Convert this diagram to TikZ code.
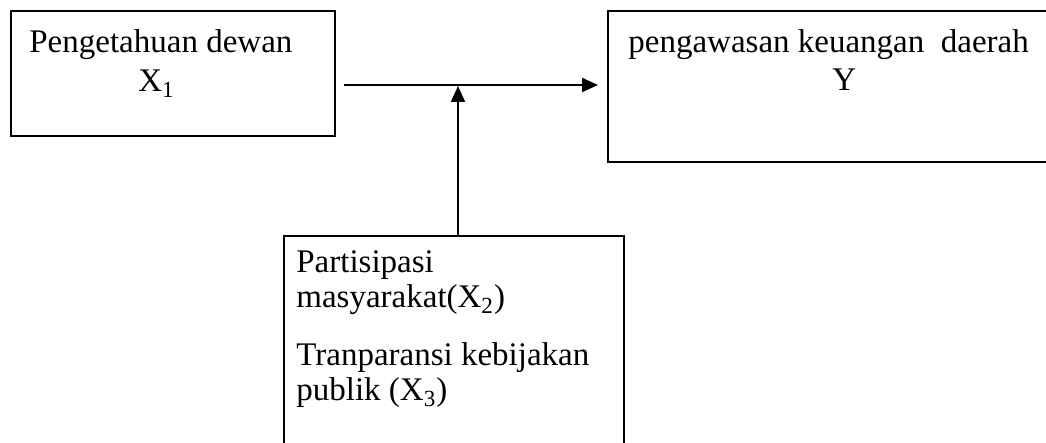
\documentclass[tikz,border=0pt]{standalone}
\usepackage{fontspec}
\setmainfont{Liberation Serif}
\usetikzlibrary{arrows.meta}
\tikzset{box/.style={draw, line width=1pt, rectangle, inner sep=0pt, anchor=north west},
  txt/.style={anchor=base west, inner sep=0pt, font=\fontsize{16.5}{16.5}\selectfont},
  arr/.style={-{Triangle[length=8pt,width=7pt]}, line width=1pt}}
\begin{document}
\begin{tikzpicture}[x=0.5pt,y=-0.5pt]
\useasboundingbox (0,0) rectangle (1046,443);
\node[box, minimum width=162pt, minimum height=62.5pt] (b1) at (10,10) {};
\node[box, minimum width=222.5pt, minimum height=75.5pt] (b2) at (607,10) {};
\node[box, minimum width=170pt, minimum height=107.5pt] (b3) at (283,235) {};

\node[txt] (t1) at (29,53) {Pengetahuan dewan};
\node[txt] (t2) at (138,92) {X\textsubscript{1}};
\node[txt] (t3) at (628,53) {pengawasan keuangan\ \ daerah};
\node[txt] (t4) at (832,91) {Y};
\node[txt] (t5) at (296,273) {Partisipasi};
\node[txt] (t6) at (296,308) {masyarakat(X\textsubscript{2})};
\node[txt] (t7) at (296,366) {Tranparansi kebijakan};
\node[txt] (t8) at (296,401) {publik (X\textsubscript{3})};

\coordinate (m) at (458,85);
\draw[arr, shorten <=4pt, shorten >=4.5pt] (b1.east |- m) -- (b2.west |- m);
\draw[arr, shorten >=0.5pt] (b3.north -| m) -- (m);
\end{tikzpicture}
\end{document}
